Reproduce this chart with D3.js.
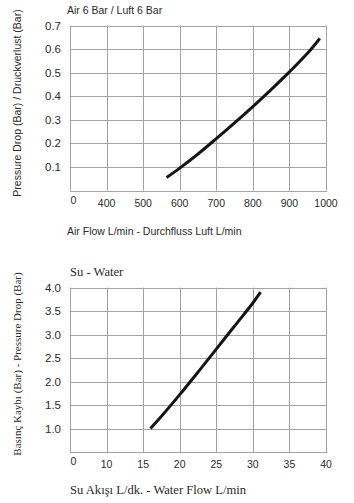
<!DOCTYPE html>
<html>
<head>
<meta charset="utf-8">
<script src="https://cdn.jsdelivr.net/npm/d3@7"></script>
<style>
  body { margin: 0; background: #fff; }
  .grid line { stroke: #a3a3a3; stroke-width: 1; }
  .tick-y { font-family: "Liberation Sans", Arial, sans-serif; font-size: 11.5px; fill: #2a2a2a; }
  .tick-x { font-family: "Liberation Sans", Arial, sans-serif; font-size: 10.5px; fill: #2a2a2a; }
</style>
</head>
<body>
<div id="visualization"></div>
<script>
// Air chart data
var air_flow = [564, 600, 650, 700, 750, 800, 850, 900, 950, 983];
var air_drop = [0.055, 0.095, 0.155, 0.22, 0.287, 0.356, 0.428, 0.503, 0.583, 0.645];
var air_x_ticks = [300, 400, 500, 600, 700, 800, 900, 1000];
var air_x_labels = ["0", "400", "500", "600", "700", "800", "900", "1000"];
var air_y_ticks = [0.1, 0.2, 0.3, 0.4, 0.5, 0.6, 0.7];
var air_y_labels = ["0.1", "0.2", "0.3", "0.4", "0.5", "0.6", "0.7"];

// Water chart data
var water_flow = [16, 17.5, 20, 22.5, 25, 27.5, 30, 31.05];
var water_drop = [1.0, 1.26, 1.72, 2.2, 2.69, 3.18, 3.67, 3.9];
var water_x_ticks = [5, 10, 15, 20, 25, 30, 35, 40];
var water_x_labels = ["0", "10", "15", "20", "25", "30", "35", "40"];
var water_y_ticks = [1.0, 1.5, 2.0, 2.5, 3.0, 3.5, 4.0];
var water_y_labels = ["1.0", "1.5", "2.0", "2.5", "3.0", "3.5", "4.0"];

var width = 354, height = 503;

var svg = d3.select("#visualization")
    .append("svg")
    .attr("width", width)
    .attr("height", height);

var sans = "'Liberation Sans', Arial, sans-serif";
var serif = "'Liberation Serif', 'Times New Roman', serif";

function draw_chart(opt) {
    var x = d3.scaleLinear().domain(opt.xdomain).range([70, 326]);
    var y = d3.scaleLinear().domain(opt.ydomain).range([opt.bottom, opt.top]);

    var g = svg.append("g").attr("class", "chart");

    // grid
    var grid = g.append("g").attr("class", "grid");
    grid.selectAll("line.v")
        .data(opt.xticks)
        .enter().append("line")
        .attr("class", "v")
        .attr("x1", function(d) { return Math.round(x(d)) + 0.5; })
        .attr("x2", function(d) { return Math.round(x(d)) + 0.5; })
        .attr("y1", y.range()[1])
        .attr("y2", y.range()[0]);

    grid.selectAll("line.h")
        .data([opt.ydomain[0]].concat(opt.yticks))
        .enter().append("line")
        .attr("class", "h")
        .attr("x1", x.range()[0])
        .attr("x2", x.range()[1] + 1)
        .attr("y1", function(d) { return Math.round(y(d)) + 0.5; })
        .attr("y2", function(d) { return Math.round(y(d)) + 0.5; });

    // y tick labels
    g.selectAll("text.tick-y")
        .data(opt.yticks)
        .enter().append("text")
        .attr("class", "tick-y")
        .attr("x", 61)
        .attr("y", function(d) { return y(d); })
        .attr("dy", "0.36em")
        .attr("text-anchor", "end")
        .text(function(d, i) { return opt.ylabels[i]; });

    // x tick labels
    g.selectAll("text.tick-x")
        .data(opt.xticks)
        .enter().append("text")
        .attr("class", "tick-x")
        .attr("x", function(d, i) { return x(d) + (i === 0 ? 3.5 : 0); })
        .attr("y", function(d, i) { return opt.bottom + (i === 0 ? 13 : 16); })
        .attr("text-anchor", "middle")
        .text(function(d, i) { return opt.xlabels[i]; });

    // curve
    var line = d3.line()
        .x(function(d) { return x(d[0]); })
        .y(function(d) { return y(d[1]); })
        .curve(d3.curveCatmullRom);

    g.append("path")
        .datum(d3.zip(opt.xs, opt.ys))
        .attr("d", line)
        .attr("fill", "none")
        .attr("stroke", "#151515")
        .attr("stroke-width", 3);

    // titles
    g.append("text")
        .attr("x", opt.titleX)
        .attr("y", opt.titleY)
        .attr("font-family", opt.font)
        .attr("font-size", opt.titleSize)
        .attr("fill", "#2a2a2a")
        .text(opt.title);

    g.append("text")
        .attr("x", opt.titleX)
        .attr("y", opt.xtitleY)
        .attr("font-family", opt.font)
        .attr("font-size", opt.titleSize)
        .attr("fill", "#2a2a2a")
        .text(opt.xtitle);

    g.append("text")
        .attr("transform", "translate(21," + opt.ytitleY + ") rotate(-90)")
        .attr("text-anchor", "middle")
        .attr("font-family", opt.font)
        .attr("font-size", opt.ytitleSize)
        .attr("fill", "#2a2a2a")
        .text(opt.ytitle);
}

draw_chart({
    xdomain: [300, 1000], ydomain: [0, 0.7], top: 25.5, bottom: 190.5,
    xticks: air_x_ticks, xlabels: air_x_labels,
    yticks: air_y_ticks, ylabels: air_y_labels,
    xs: air_flow, ys: air_drop,
    font: sans, titleSize: "10.5px", ytitleSize: "10.5px",
    titleX: 67, titleY: 14, xtitleY: 235, ytitleY: 103,
    title: "Air 6 Bar / Luft 6 Bar",
    xtitle: "Air Flow L/min - Durchfluss Luft L/min",
    ytitle: "Pressure Drop (Bar) / Druckverlust (Bar)"
});

draw_chart({
    xdomain: [5, 40], ydomain: [0.5, 4.0], top: 287.5, bottom: 452,
    xticks: water_x_ticks, xlabels: water_x_labels,
    yticks: water_y_ticks, ylabels: water_y_labels,
    xs: water_flow, ys: water_drop,
    font: serif, titleSize: "12.6px", ytitleSize: "11px",
    titleX: 70, titleY: 276, xtitleY: 494, ytitleY: 364,
    title: "Su - Water",
    xtitle: "Su Akışı L/dk. - Water Flow L/min",
    ytitle: "Basınç Kaybı (Bar) - Pressure Drop (Bar)"
});
</script>
</body>
</html>
